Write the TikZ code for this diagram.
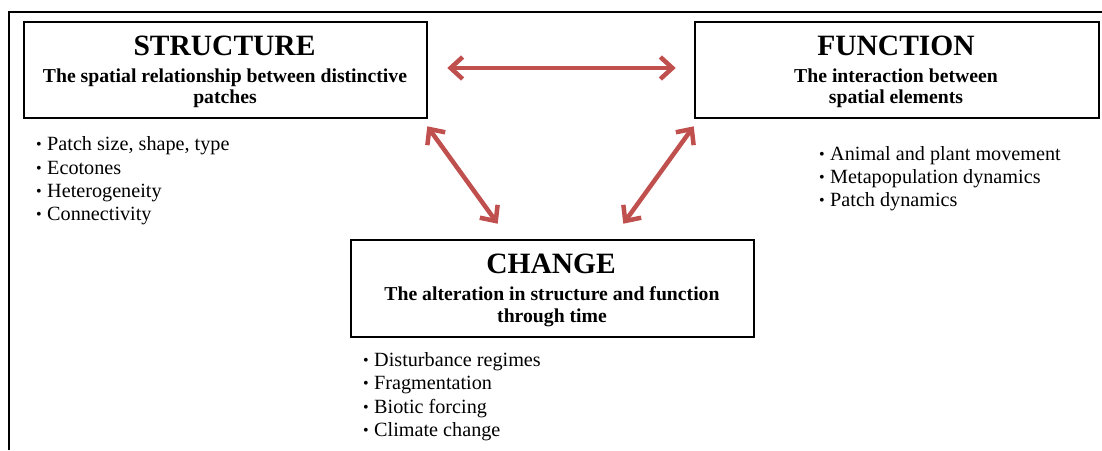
\documentclass[tikz,border=0pt]{standalone}
\usepackage{fontspec}
\setmainfont{Liberation Serif}
\usetikzlibrary{arrows.meta,calc}
\definecolor{linkred}{HTML}{C0504D}
% small raised bullet followed by a fixed gap
\newcommand\dotitem{\makebox[11pt][l]{\raisebox{0.8pt}{\fontsize{16}{16}\selectfont\textbullet}}}
\tikzset{
  box/.style={draw=black, line width=2.6pt, minimum width=403pt, minimum height=96pt, inner sep=0pt},
  heading/.style={anchor=base, inner sep=0pt, font=\bfseries\fontsize{29.5}{30}\selectfont},
  subline/.style={anchor=base, inner sep=0pt, font=\bfseries\fontsize{19.7}{21}\selectfont},
  item/.style={anchor=base west, inner sep=0pt, font=\fontsize{20.2}{21}\selectfont},
  link/.style={draw=linkred, line width=4.5pt,
    {Straight Barb[length=12pt,width=22pt]}-{Straight Barb[length=12pt,width=22pt]}},
  frame/.style={draw=black, line width=2pt}
}
\begin{document}
\begin{tikzpicture}[x=1pt, y=-1pt]
\useasboundingbox (0,0) rectangle (1102,450);

% open outer frame
\draw[frame] (9,450) -- (9,12) -- (1102,12);

% the three concept boxes
\node[box] (s) at (225.5,70) {};
\node[box, minimum width=404pt] (f) at (897,70) {};
\node[box, minimum height=97pt] (c) at (552.5,288.5) {};

% STRUCTURE
\node[heading] (st) at (224.5,55) {STRUCTURE};
\node[subline] (s1) at (225,82) {The spatial relationship between distinctive};
\node[subline] (s2) at (225,103) {patches};
\node[item] (si1) at (36,150.5) {\dotitem Patch size, shape, type};
\node[item] (si2) at (36,174) {\dotitem Ecotones};
\node[item] (si3) at (36,197.3) {\dotitem Heterogeneity};
\node[item] (si4) at (36,220.6) {\dotitem Connectivity};

% FUNCTION
\node[heading] (ft) at (896,55) {FUNCTION};
\node[subline] (f1) at (896,82) {The interaction between};
\node[subline] (f2) at (896,103) {spatial elements};
\node[item] (fi1) at (819,160) {\dotitem Animal and plant movement};
\node[item] (fi2) at (819,183.3) {\dotitem Metapopulation dynamics};
\node[item] (fi3) at (819,206.6) {\dotitem Patch dynamics};

% CHANGE
\node[heading] (ct) at (551,273) {CHANGE};
\node[subline] (c1) at (552,300) {The alteration in structure and function};
\node[subline] (c2) at (552,322) {through time};
\node[item] (ci1) at (363,366) {\dotitem Disturbance regimes};
\node[item] (ci2) at (363,389.5) {\dotitem Fragmentation};
\node[item] (ci3) at (363,413) {\dotitem Biotic forcing};
\node[item] (ci4) at (363,436.5) {\dotitem Climate change};

% two-way links between the concepts
\draw[link] ($(s.east)+(19,-2)$) -- ($(f.west)+(-18,-2)$);
\draw[link] ($(s.south east)+(-1,7)$) -- ($(c.north west)+(148,-15)$);
\draw[link] ($(f.south west)+(0,7)$) -- ($(c.north east)+(-132,-15)$);
\end{tikzpicture}
\end{document}
